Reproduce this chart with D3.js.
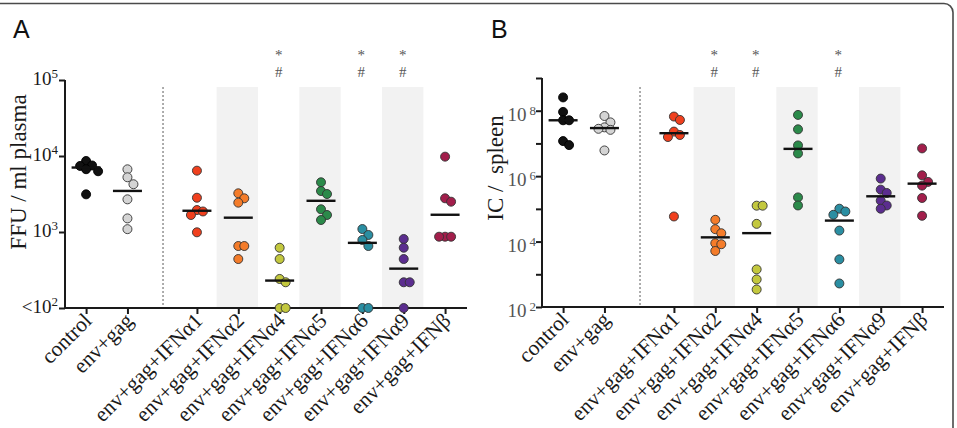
<!DOCTYPE html>
<html>
<head>
<meta charset="utf-8">
<script src="https://cdn.jsdelivr.net/npm/d3@7"></script>
<style>
  body { margin: 0; background: #fff; }
  svg { display: block; }
</style>
</head>
<body>
<svg id="chart"></svg>
<script>
// groups on the x axis (same in both panels)
const groups = ["control", "env+gag", "env+gag+IFNα1", "env+gag+IFNα2", "env+gag+IFNα4",
                "env+gag+IFNα5", "env+gag+IFNα6", "env+gag+IFNα9", "env+gag+IFNβ"];
const groupColors = ["#111111", "#d4d4d4", "#f0401e", "#f47c2a", "#c3c83e",
                     "#2b8a4a", "#2a8ea2", "#5b2d8f", "#a21e4b"];
const shadedGroups = ["env+gag+IFNα2", "env+gag+IFNα5", "env+gag+IFNα9"];

// panel A: FFU / ml plasma (values at 100 are below detection, "<10^2")
const ffuValues = [
  [8600, 7500, 7400, 6700, 6300, 3130],
  [6680, 5250, 4250, 2690, 1510, 1090],
  [6410, 2825, 1945, 1862, 1674, 991],
  [3228, 2775, 2432, 654, 654, 441],
  [621, 441, 241, 218, 100, 100],
  [4510, 3460, 3160, 1990, 1675, 1438],
  [1094, 914, 785, 654, 100, 100],
  [809, 621, 441, 218, 218, 100],
  [9800, 2775, 2505, 867, 867, 867]
];
const ffuTicks = [1e2, 1e3, 1e4, 1e5];
const ffuTickLabels = ["<10^2", "10^3", "10^4", "10^5"];
const ffuSignificant = ["env+gag+IFNα4", "env+gag+IFNα6", "env+gag+IFNα9"];

// panel B: IC / spleen
const icValues = [
  [2.55e8, 9.2e7, 5.1e7, 5.1e7, 1.18e7, 8.9e6],
  [6.9e7, 4.4e7, 3.1e7, 2.8e7, 2.6e7, 6.1e6],
  [6.64e7, 5.22e7, 2.3e7, 1.81e7, 1.57e7, 5.85e4],
  [4.63e4, 2.39e4, 1.8e4, 8.9e3, 8.3e3, 5.15e3],
  [1.25e5, 1.25e5, 3.48e4, 1.41e3, 695, 343],
  [7.43e7, 2.7e7, 8.7e6, 4.94e6, 2.24e5, 1.27e5],
  [1.01e5, 8.3e4, 6.59e4, 2.17e4, 2.86e3, 524],
  [8.43e5, 3.87e5, 3.06e5, 1.78e5, 1.27e5, 1.01e5],
  [7.05e6, 1.06e6, 6.67e5, 5.13e5, 2.15e5, 6.14e4]
];
const icTicks = [1e2, 1e3, 1e4, 1e5, 1e6, 1e7, 1e8, 1e9];
const icTickLabels = ["10^2", "", "10^4", "", "10^6", "", "10^8", ""];
const icSignificant = ["env+gag+IFNα2", "env+gag+IFNα4", "env+gag+IFNα6"];

var width = 957, height = 428;
var serif = "'Liberation Serif', 'Times New Roman', serif";

var svg = d3.select("#chart")
    .attr("width", width)
    .attr("height", height);

svg.append("rect").attr("width", width).attr("height", height).attr("fill", "#fff");

// frame round the figure
svg.append("rect")
    .attr("x", -10).attr("y", 3.5)
    .attr("width", 963).attr("height", 460)
    .attr("rx", 9)
    .attr("fill", "none")
    .attr("stroke", "#4a4a4a")
    .attr("stroke-width", 1.6);

// slot of each group: a small gap after the two controls
function slot(i) { return i < 2 ? i : i + 0.68; }

function drawPanel(opt) {
    var g = svg.append("g");

    var x = d3.scaleLinear().domain([-0.51, 9.21]).range([opt.left, opt.right]);
    var y = d3.scaleLog().domain(opt.domain).range([opt.bottom, opt.top]);

    // letter
    g.append("text")
        .attr("x", opt.letterX).attr("y", 38)
        .attr("font-family", "'Liberation Sans', Arial, sans-serif")
        .attr("font-size", 25)
        .attr("fill", "#111")
        .text(opt.letter);

    // shaded columns
    var step = x(1) - x(0);
    g.selectAll(".band")
        .data(shadedGroups)
        .enter().append("rect")
        .attr("x", function(d) { return x(slot(groups.indexOf(d))) - step / 2 - 1; })
        .attr("y", opt.bandTop)
        .attr("width", step)
        .attr("height", opt.bottom - opt.bandTop)
        .attr("fill", "#f2f2f2");

    // dashed separator
    g.append("line")
        .attr("x1", x(1.86)).attr("x2", x(1.86))
        .attr("y1", opt.bandTop).attr("y2", opt.bottom)
        .attr("stroke", "#777")
        .attr("stroke-width", 1.2)
        .attr("stroke-dasharray", "2,2");

    // y axis
    var yAxis = d3.axisLeft(y)
        .tickValues(opt.ticks)
        .tickSize(6)
        .tickFormat("");
    var ya = g.append("g")
        .attr("transform", "translate(" + opt.left + ",0)")
        .call(yAxis);
    ya.select(".domain").attr("stroke", "#1a1a1a").attr("stroke-width", 2)
        .attr("d", "M" + 0 + "," + y(opt.domain[1]) + "V" + opt.bottom);
    ya.selectAll(".tick line").attr("stroke", "#1a1a1a").attr("stroke-width", 2);

    // tick labels with superscripts
    opt.ticks.forEach(function(t, i) {
        var lab = opt.tickLabels[i];
        if (!lab) return;
        var parts = lab.split("^");
        var txt = g.append("text")
            .attr("x", opt.left - opt.labelGap)
            .attr("y", y(t) + opt.labelDy)
            .attr("text-anchor", "end")
            .attr("font-family", serif)
            .attr("font-size", 19)
            .attr("fill", opt.tickColor);
        txt.append("tspan").text(parts[0]);
        txt.append("tspan")
            .attr("dx", opt.supDx)
            .attr("dy", -opt.supRise)
            .attr("font-size", 13)
            .text(parts[1]);
    });

    // y title
    g.append("text")
        .attr("transform", "translate(" + opt.titleX + "," + opt.titleY + ") rotate(-90)")
        .attr("text-anchor", "middle")
        .attr("font-family", serif)
        .attr("font-size", 23)
        .attr("fill", "#1a1a1a")
        .style("white-space", "pre")
        .text(opt.title);

    // x axis
    var xa = g.append("g")
        .attr("transform", "translate(0," + opt.bottom + ")")
        .call(d3.axisBottom(x)
            .tickValues(groups.map(function(d, i) { return slot(i); }))
            .tickSize(6)
            .tickSizeOuter(0)
            .tickFormat(""));
    xa.select(".domain").attr("stroke", "#1a1a1a").attr("stroke-width", 2)
        .attr("d", "M" + opt.left + ",0H" + opt.right);
    xa.selectAll(".tick line").attr("stroke", "#1a1a1a").attr("stroke-width", 2);

    g.selectAll(".xlab")
        .data(groups)
        .enter().append("text")
        .attr("transform", function(d, i) {
            return "translate(" + (x(slot(i)) + 7) + "," + (opt.bottom + 14) + ") rotate(-45)";
        })
        .attr("text-anchor", "end")
        .attr("font-family", serif)
        .attr("font-size", 21.5)
        .attr("fill", "#1a1a1a")
        .text(function(d) { return d; });

    // significance marks: "*" over "#"
    opt.significant.forEach(function(d) {
        var cx = x(slot(groups.indexOf(d))) - 1;
        g.append("text").attr("x", cx).attr("y", 60)
            .attr("text-anchor", "middle").attr("font-family", serif)
            .attr("font-size", 15).attr("fill", "#555").text("*");
        g.append("text").attr("x", cx).attr("y", 77)
            .attr("text-anchor", "middle").attr("font-family", serif)
            .attr("font-size", 15).attr("fill", "#555").text("#");
    });

    // dots, dodged sideways when they sit at the same height
    var dodge = 6, minDy = 7;
    opt.values.forEach(function(vals, gi) {
        var cx = x(slot(gi));
        var placed = [];
        var sorted = vals.slice().sort(function(a, b) { return b - a; });
        sorted.forEach(function(v) {
            var py = y(v);
            var cols = [0, 1, -1, 2, -2, 3, -3];
            for (var k = 0; k < cols.length; k++) {
                var c = cols[k];
                var hit = placed.some(function(p) { return p.col === c && Math.abs(p.y - py) < minDy; });
                if (!hit) { placed.push({ col: c, y: py }); break; }
            }
        });
        g.selectAll(null)
            .data(placed)
            .enter().append("circle")
            .attr("cx", function(p) { return cx + p.col * dodge; })
            .attr("cy", function(p) { return p.y; })
            .attr("r", 4.5)
            .attr("fill", groupColors[gi])
            .attr("stroke", gi === 0 ? "#000" : "#333")
            .attr("stroke-width", 0.9);

        // median line
        var m = d3.median(vals);
        g.append("line")
            .attr("x1", cx - 14.5).attr("x2", cx + 14.5)
            .attr("y1", y(m)).attr("y2", y(m))
            .attr("stroke", "#111")
            .attr("stroke-width", 2.4);
    });
}

drawPanel({
    letter: "A", letterX: 13,
    left: 65, right: 467, top: 80, bottom: 308, bandTop: 87,
    domain: [1e2, 1e5],
    values: ffuValues,
    ticks: ffuTicks, tickLabels: ffuTickLabels,
    tickColor: "#1a1a1a", labelGap: 7, labelDy: 5, supDx: 0, supRise: 7,
    title: "FFU / ml plasma", titleX: 26, titleY: 172,
    significant: ffuSignificant
});

drawPanel({
    letter: "B", letterX: 491,
    left: 542, right: 944, top: 78, bottom: 307, bandTop: 87,
    domain: [1e2, 1e9],
    values: icValues,
    ticks: icTicks, tickLabels: icTickLabels,
    tickColor: "#555", labelGap: 6, labelDy: 10, supDx: 3, supRise: 6,
    title: "IC /  spleen", titleX: 503, titleY: 168,
    significant: icSignificant
});
</script>
</body>
</html>
